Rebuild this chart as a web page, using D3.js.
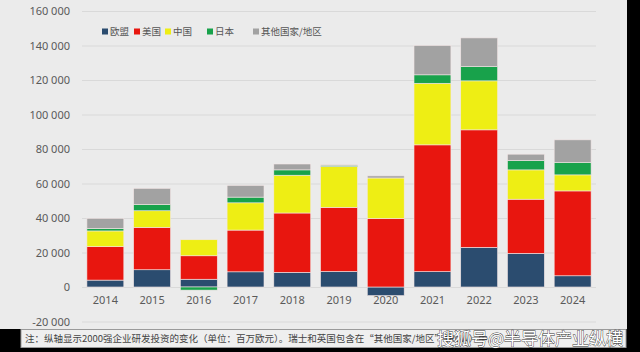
<!DOCTYPE html>
<html>
<head>
<meta charset="utf-8">
<script src="https://cdn.jsdelivr.net/npm/d3@7"></script>
<style>
  html, body { margin: 0; padding: 0; background: #000; }
  svg { display: block; }
</style>
</head>
<body>
<div id="chart"></div>
<script>
// data (million EUR)
const years = ["2014", "2015", "2016", "2017", "2018", "2019", "2020", "2021", "2022", "2023", "2024"];
const eu    = [4000, 10000, 4500, 8800, 8500, 9000, -5000, 8900, 23000, 19500, 6500];
const us    = [19400, 24600, 13600, 24200, 34400, 37200, 39700, 73500, 68100, 31400, 49200];
const china = [9100, 9600, 9300, 15800, 21900, 23600, 23500, 35700, 28400, 17000, 9300];
const japan = [1500, 3700, -1800, 3300, 3100, 800, 0, 4900, 8300, 5400, 7300];
const row   = [5800, 9300, 0, 6800, 3400, 300, 1200, 17000, 16600, 3700, 13000];
const seriesNames = ["欧盟", "美国", "中国", "日本", "其他国家/地区"];
const yTicks = [-20000, 0, 20000, 40000, 60000, 80000, 100000, 120000, 140000, 160000];
const note = "注：纵轴显示2000强企业研发投资的变化（单位：百万欧元）。瑞士和英国包含在“其他国家/地区”（RoW）中。";

const width = 640, height = 352;
const colors = ["#2b4c6f", "#e8160f", "#eeee14", "#18a24b", "#a2a2a2"];
const keys = ["eu", "us", "china", "japan", "row"];
const table = years.map((y, i) => ({
    year: y, eu: eu[i], us: us[i], china: china[i], japan: japan[i], row: row[i]
}));

const svg = d3.select("#chart").append("svg")
    .attr("width", width)
    .attr("height", height);

// chart panel and the dark frame round it
svg.append("rect").attr("width", width).attr("height", height).attr("fill", "#000");
svg.append("rect").attr("width", 627).attr("height", 329).attr("fill", "#ebebeb");

const x = d3.scaleBand()
    .domain(years)
    .range([82, 596])
    .paddingInner(0.21)
    .paddingOuter(0.105);

const y = d3.scaleLinear()
    .domain([-20000, 160000])
    .range([321.5, 11]);

const fmt = v => d3.format(",")(v).replace(/,/g, " ").replace("−", "-");

// gridlines + y labels
const yAxis = svg.append("g")
    .attr("transform", "translate(82,0)")
    .call(d3.axisLeft(y).tickValues(yTicks).tickSize(-514).tickFormat(fmt).tickPadding(12));
yAxis.select(".domain").remove();
yAxis.selectAll("line").attr("stroke", "#d9d9d9").attr("stroke-width", 1);
yAxis.selectAll("text")
    .attr("fill", "#5a5a5a")
    .style("font-family", "'Noto Sans', 'Open Sans', sans-serif")
    .style("font-size", "11px");

// stacked bars
const stack = d3.stack().keys(keys).offset(d3.stackOffsetDiverging);
const layers = stack(table);

svg.append("g").selectAll("g")
    .data(layers)
    .join("g")
    .attr("fill", (d, i) => colors[i])
    .selectAll("rect")
    .data(d => d)
    .join("rect")
    .attr("x", d => x(d.data.year))
    .attr("width", x.bandwidth())
    .attr("y", d => y(Math.max(d[0], d[1])))
    .attr("height", d => Math.abs(y(d[0]) - y(d[1])))
    .attr("stroke", "#f3e6e6")
    .attr("stroke-width", 0.6);

// x labels
const xAxis = svg.append("g")
    .attr("transform", "translate(0," + y(0) + ")")
    .call(d3.axisBottom(x).tickSize(0).tickPadding(9));
xAxis.select(".domain").remove();
xAxis.selectAll("text")
    .attr("fill", "#5a5a5a")
    .style("font-family", "'Noto Sans', 'Open Sans', sans-serif")
    .style("font-size", "11px");

// legend
const legendX = [102, 134, 165, 207, 253];
const legend = svg.append("g").selectAll("g")
    .data(seriesNames)
    .join("g")
    .attr("transform", (d, i) => "translate(" + legendX[i] + ",31.5)");
legend.append("rect")
    .attr("x", 0).attr("y", -3)
    .attr("width", 6).attr("height", 6)
    .attr("fill", (d, i) => colors[i]);
legend.append("text")
    .attr("x", 8).attr("dy", "0.36em")
    .attr("fill", "#555")
    .style("font-family", "'Noto Sans CJK SC', sans-serif")
    .style("font-size", "9.5px")
    .text(d => d);

// note box
svg.append("rect")
    .attr("x", 21).attr("y", 329.5)
    .attr("width", 605).attr("height", 18)
    .attr("fill", "#efefef")
    .attr("stroke", "#9a9a9a")
    .attr("stroke-width", 1);
svg.append("text")
    .attr("x", 25).attr("y", 339)
    .attr("dy", "0.35em")
    .attr("fill", "#444")
    .style("font-family", "'Noto Sans CJK SC', sans-serif")
    .style("font-size", "9.5px")
    .text(note);

// watermark
svg.append("text")
    .attr("x", 623).attr("y", 339)
    .attr("dy", "0.35em")
    .attr("text-anchor", "end")
    .attr("fill", "#fff")
    .attr("stroke", "#333")
    .attr("stroke-width", 0.8)
    .attr("paint-order", "stroke")
    .style("font-family", "'Noto Sans CJK SC', sans-serif")
    .style("font-size", "17px")
    .text("搜狐号@半导体产业纵横");
</script>
</body>
</html>
